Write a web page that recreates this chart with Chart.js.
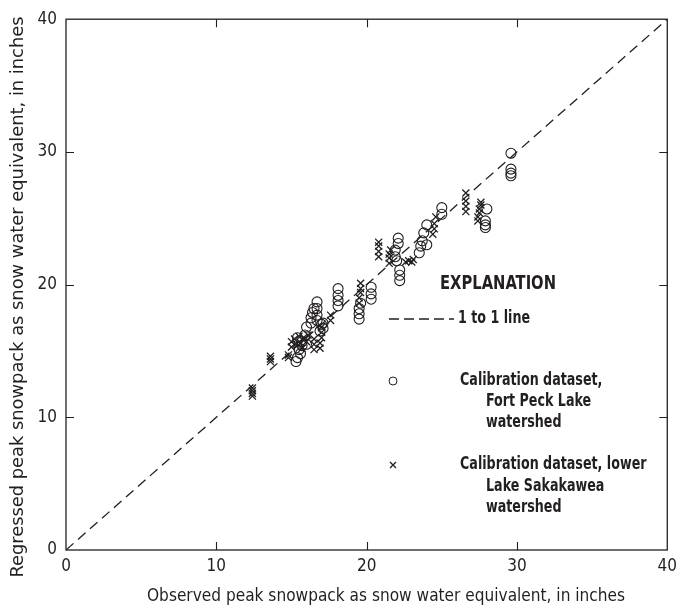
<!DOCTYPE html>
<html>
<head>
<meta charset="utf-8">
<script src="https://cdn.jsdelivr.net/npm/chart.js@4.4.1/dist/chart.umd.min.js"></script>
<style>
  html, body { margin: 0; padding: 0; background: #fff; }
  #wrap { width: 683px; height: 611px; }
</style>
</head>
<body>
<div id="wrap"><canvas id="swe"></canvas></div>
<script>
// observed vs regressed peak SWE, inches
const fortPeck = [
  [15.3, 14.2], [15.4, 14.5], [15.6, 14.8], [15.5, 15.1], [15.7, 15.4], [15.4, 16.0],
  [15.9, 16.2], [16.0, 16.8], [16.3, 17.1], [16.3, 17.5], [16.4, 17.9], [16.5, 18.2],
  [16.7, 17.3], [16.7, 17.7], [16.7, 18.2], [16.7, 18.7], [17.1, 16.7], [17.1, 17.1],
  [16.9, 16.5], [17.0, 17.0], [16.0, 15.5], [15.7, 15.7],
  [18.1, 18.4], [18.1, 18.8], [18.1, 19.2], [18.1, 19.7],
  [19.5, 17.4], [19.5, 17.8], [19.5, 18.2], [19.6, 18.6],
  [20.3, 18.9], [20.3, 19.3], [20.3, 19.8],
  [21.9, 22.1], [21.9, 22.6], [22.1, 23.1], [22.1, 23.5], [22.2, 20.3], [22.2, 20.7],
  [22.2, 21.1], [22.0, 21.8],
  [23.5, 22.4], [23.6, 22.9], [23.7, 23.3], [23.8, 23.9], [24.0, 23.0], [24.0, 24.5],
  [25.0, 25.3], [25.0, 25.8],
  [27.9, 24.3], [27.9, 24.5], [27.9, 24.8], [28.0, 25.7],
  [29.6, 28.2], [29.6, 28.4], [29.6, 28.7], [29.6, 29.9]
];

const sakakawea = [
  [12.4, 11.6], [12.4, 11.8], [12.4, 12.0], [12.4, 12.2],
  [13.6, 14.2], [13.6, 14.4], [13.6, 14.6],
  [14.8, 14.5], [14.8, 14.7],
  [15.0, 15.3], [15.0, 15.7], [15.2, 15.9], [15.3, 15.5], [15.5, 16.1], [15.6, 15.6],
  [15.7, 15.2], [15.8, 16.0], [16.0, 15.7], [16.1, 16.2],
  [16.5, 15.1], [16.5, 15.5], [16.5, 15.9],
  [16.9, 15.2], [16.9, 15.6], [17.0, 16.0], [17.0, 16.4], [17.0, 16.8],
  [17.6, 17.3], [17.6, 17.7],
  [19.5, 18.6], [19.5, 19.0], [19.6, 19.4], [19.6, 19.7], [19.6, 20.1],
  [20.8, 22.1], [20.8, 22.5], [20.8, 22.9], [20.8, 23.2],
  [21.5, 21.6], [21.5, 22.0], [21.5, 22.3], [21.6, 22.6],
  [22.6, 21.7], [22.8, 21.8], [23.0, 21.7], [23.1, 21.9],
  [24.4, 23.8], [24.5, 24.2], [24.5, 24.6], [24.6, 25.1],
  [26.6, 25.5], [26.6, 25.9], [26.6, 26.3], [26.6, 26.9],
  [27.4, 24.8], [27.4, 25.1], [27.5, 25.4], [27.5, 25.7], [27.6, 26.0], [27.6, 26.2]
];

const oneToOne = [[0, 0], [40, 40]];
const tickValues = [0, 10, 20, 30, 40];

const xTitle = 'Observed peak snowpack as snow water equivalent, in inches';
const yTitle = 'Regressed peak snowpack as snow water equivalent, in inches';

const FONT = "'Liberation Sans Narrow', 'DejaVu Sans Condensed', 'Arial Narrow', sans-serif";
const INK = '#231f20';

const toXY = arr => arr.map(p => ({ x: p[0], y: p[1] }));

// draw text squeezed horizontally to a given width (condensed look)
function fitText(ctx, text, x, y, width, align) {
  const w = ctx.measureText(text).width;
  const k = width / w;
  ctx.save();
  ctx.translate(x, y);
  ctx.scale(k, 1);
  ctx.textAlign = align || 'left';
  ctx.fillText(text, 0, 0);
  ctx.restore();
}

// inward tick marks on all four sides plus the closing box
const frame = {
  id: 'frame',
  afterDatasetsDraw(chart) {
    const { ctx, chartArea: a, scales: { x, y } } = chart;
    ctx.save();
    ctx.strokeStyle = INK;
    ctx.lineWidth = 1.3;
    ctx.strokeRect(a.left, a.top, a.right - a.left, a.bottom - a.top);
    ctx.lineWidth = 1.1;
    const len = 8;
    ctx.beginPath();
    [10, 20, 30].forEach(v => {
      const px = Math.round(x.getPixelForValue(v)) + 0.5;
      ctx.moveTo(px, a.bottom); ctx.lineTo(px, a.bottom - len);
      ctx.moveTo(px, a.top); ctx.lineTo(px, a.top + len);
      const py = Math.round(y.getPixelForValue(v)) + 0.5;
      ctx.moveTo(a.left, py); ctx.lineTo(a.left + len, py);
      ctx.moveTo(a.right, py); ctx.lineTo(a.right - len, py);
    });
    ctx.stroke();
    ctx.restore();
  }
};

// axis titles
const titles = {
  id: 'titles',
  afterDraw(chart) {
    const { ctx } = chart;
    ctx.save();
    ctx.fillStyle = INK;
    ctx.textBaseline = 'middle';
    ctx.font = "18px " + FONT;
    fitText(ctx, xTitle, 386, 596, 478, 'center');
    ctx.translate(18, 297);
    ctx.rotate(-Math.PI / 2);
    fitText(ctx, yTitle, 0, 0, 561, 'center');
    ctx.restore();
  }
};

// the EXPLANATION block
const explanation = {
  id: 'explanation',
  afterDraw(chart) {
    const { ctx } = chart;
    ctx.save();
    ctx.fillStyle = INK;
    ctx.strokeStyle = INK;
    ctx.textBaseline = 'middle';
    ctx.font = "bold 20px " + FONT;
    fitText(ctx, 'EXPLANATION', 440, 284, 116);

    ctx.font = "bold 17px " + FONT;
    const k = 0.83;
    const put = (t, x, y) => fitText(ctx, t, x, y, ctx.measureText(t).width * k);

    ctx.lineWidth = 1.3;
    ctx.setLineDash([10, 5]);
    ctx.beginPath();
    ctx.moveTo(389, 319); ctx.lineTo(454, 319);
    ctx.stroke();
    ctx.setLineDash([]);
    put('1 to 1 line', 458, 319);

    ctx.beginPath();
    ctx.arc(393, 381, 4, 0, Math.PI * 2);
    ctx.lineWidth = 1;
    ctx.stroke();
    put('Calibration dataset,', 460, 381);
    put('Fort Peck Lake', 486, 402);
    put('watershed', 486, 423);

    ctx.beginPath();
    ctx.moveTo(390, 462); ctx.lineTo(396, 468);
    ctx.moveTo(396, 462); ctx.lineTo(390, 468);
    ctx.lineWidth = 1.3;
    ctx.stroke();
    put('Calibration dataset, lower', 460, 465);
    put('Lake Sakakawea', 486, 487);
    put('watershed', 486, 508);
    ctx.restore();
  }
};

new Chart(document.getElementById('swe').getContext('2d'), {
  type: 'scatter',
  data: {
    datasets: [
      {
        type: 'line',
        label: '1 to 1 line',
        data: toXY(oneToOne),
        borderColor: INK,
        borderWidth: 1.3,
        borderDash: [10, 6],
        pointRadius: 0,
        fill: false
      },
      {
        label: 'Calibration dataset, Fort Peck Lake watershed',
        data: toXY(fortPeck),
        pointStyle: 'circle',
        pointRadius: 5,
        borderColor: INK,
        borderWidth: 1.1,
        backgroundColor: 'rgba(0,0,0,0)'
      },
      {
        label: 'Calibration dataset, lower Lake Sakakawea watershed',
        data: toXY(sakakawea),
        pointStyle: 'crossRot',
        pointRadius: 5,
        borderColor: INK,
        borderWidth: 1.3
      }
    ]
  },
  options: {
    responsive: true,
    maintainAspectRatio: false,
    animation: false,
    layout: { padding: { top: 13, right: 13, left: 0, bottom: 0 } },
    plugins: { legend: { display: false }, tooltip: { enabled: false } },
    scales: {
      x: {
        type: 'linear',
        min: 0, max: 40,
        afterBuildTicks: s => { s.ticks = tickValues.map(v => ({ value: v })); },
        afterFit: s => { s.height = 61; },
        grid: { display: false, drawTicks: false },
        border: { display: false },
        ticks: { padding: 6, color: INK, font: { family: FONT, size: 17 }, maxRotation: 0 }
      },
      y: {
        type: 'linear',
        min: 0, max: 40,
        afterBuildTicks: s => { s.ticks = tickValues.map(v => ({ value: v })); },
        afterFit: s => { s.width = 66; },
        grid: { display: false, drawTicks: false },
        border: { display: false },
        ticks: { padding: 9, color: INK, font: { family: FONT, size: 17 } }
      }
    }
  },
  plugins: [frame, titles, explanation]
});
</script>
</body>
</html>
